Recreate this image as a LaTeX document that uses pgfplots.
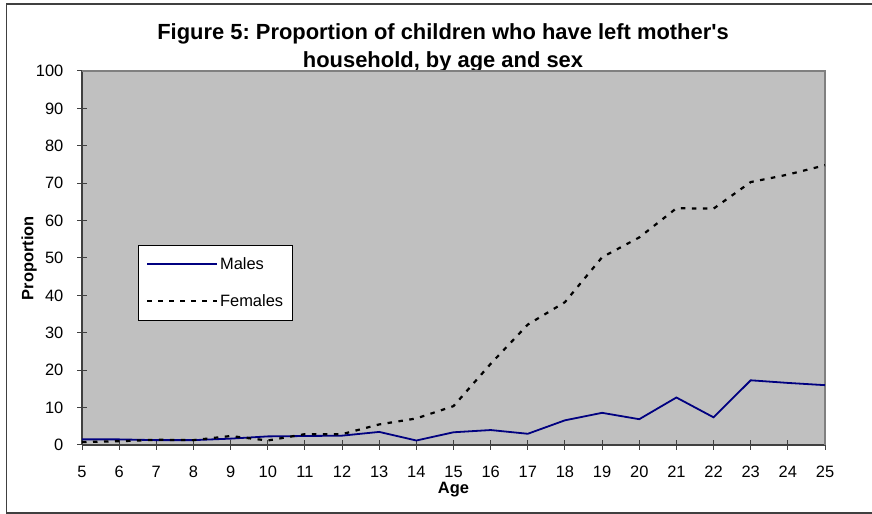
\documentclass[border=0pt]{standalone}
\usepackage{pgfplots}
\pgfplotsset{compat=1.18}
\usepackage{fontspec}
\setmainfont{Liberation Sans}
\definecolor{plotgray}{HTML}{C0C0C0}
\definecolor{bordergray}{HTML}{808080}
\definecolor{axisdark}{HTML}{404040}
\definecolor{navyline}{HTML}{000080}
\pgfplotstableread{
age males females
5 1.5 0.8
6 1.5 1.0
7 1.3 1.4
8 1.3 1.3
9 1.7 2.4
10 2.3 1.2
11 2.4 2.9
12 2.5 2.9
13 3.5 5.5
14 1.2 7.1
15 3.4 10.4
16 4.0 21.7
17 3.0 32.2
18 6.6 38.2
19 8.6 50.2
20 6.9 55.5
21 12.7 63.3
22 7.4 63.2
23 17.3 70.3
24 16.6 72.3
25 16.0 74.8
}\datatable
\begin{document}
\frenchspacing
\begin{tikzpicture}
\useasboundingbox (0,0) rectangle (872bp,514bp);
\fill[white] (0,0) rectangle (872bp,514bp);
\draw[axisdark, line width=1.3bp] (872bp,510bp) -- (6.5bp,510bp) -- (6.5bp,1bp) -- (872bp,1bp);
\node[font=\fontsize{22}{28}\selectfont\bfseries, align=center] at (443bp,466bp)
  {Figure 5: Proportion of children who have left mother\textquotesingle s\\household, by age and sex};
\begin{axis}[
  at={(82bp,69bp)}, anchor=south west,
  width=743bp, height=374bp, scale only axis,
  xmin=5, xmax=25, ymin=0, ymax=100,
  xtick={5,...,25}, ytick={0,10,...,100},
  axis lines=left,
  axis line style={-, axisdark, line width=1.3bp},
  axis background/.style={fill=plotgray},
  tick align=center,
  major tick length=10bp,
  tick style={axisdark, line width=1bp},
  /pgf/number format/assume math mode=true,
  ticklabel style={font=\fontsize{16.5}{19}\selectfont, inner sep=0pt},
  xticklabel style={yshift=-15.5bp},
  yticklabel style={xshift=-13.5bp},
  xlabel={Age}, ylabel={Proportion},
  label style={font=\fontsize{16.5}{19}\selectfont\bfseries, inner sep=0pt},
  xlabel style={at={(axis description cs:0.5,-0.119)}, anchor=center},
  ylabel style={at={(axis description cs:-0.071,0.5)}, anchor=center},
  legend style={at={(axis description cs:0.0754,0.535)}, anchor=north west,
    draw=black, fill=white, line width=0.8bp,
    font=\fontsize{16.5}{19}\selectfont,
    inner xsep=7.5bp, inner ysep=10bp, row sep=20bp},
  legend cell align=left,
  legend image code/.code={\draw[#1] (0bp,0bp) -- (70bp,0bp);},
  clip=false,
]
\draw[bordergray, line width=2bp] (rel axis cs:0,1) -- (rel axis cs:1,1) -- (rel axis cs:1,0);
\addplot[navyline, line width=1.8bp] table[x=age, y=males] {\datatable};
\addlegendentry{Males}
\addplot[black, line width=2.2bp, dash pattern=on 4.5bp off 6.5bp] table[x=age, y=females] {\datatable};
\addlegendentry{Females}
\end{axis}
\end{tikzpicture}
\end{document}
